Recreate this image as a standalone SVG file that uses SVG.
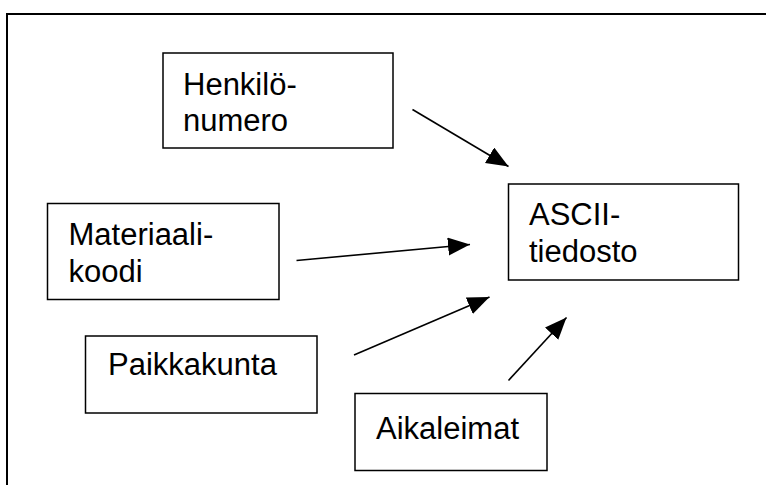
<svg xmlns="http://www.w3.org/2000/svg" width="766" height="485" viewBox="0 0 766 485">
<defs>
<style>
.box{fill:#fff;stroke:#000;stroke-width:1.5}
.t{font-family:"Liberation Sans",Arial,sans-serif;font-size:31px;fill:#000}
.c{stroke:#000;stroke-width:1.6;fill:none;marker-end:url(#ah)}
</style>
<marker id="ah" markerUnits="userSpaceOnUse" markerWidth="24" markerHeight="20" refX="22" refY="9" orient="auto">
<path d="M0,0 L22,9 L0,18 Z" fill="#000"/>
</marker>
</defs>
<rect width="766" height="485" fill="#fff"/>
<path d="M7,485 V14 H766" fill="none" stroke="#000" stroke-width="2"/>
<g id="henkilonumero">
<rect class="box" x="163" y="53" width="230" height="95"/>
<text class="t" x="183" y="94.5">Henkilö-</text>
<text class="t" x="183" y="130.5">numero</text>
</g>
<g id="materiaalikoodi">
<rect class="box" x="47.5" y="203.5" width="231.5" height="96"/>
<text class="t" x="68.5" y="245">Materiaali-</text>
<text class="t" x="68.5" y="281.5">koodi</text>
</g>
<g id="paikkakunta">
<rect class="box" x="85.5" y="336" width="231.5" height="77"/>
<text class="t" x="108" y="375">Paikkakunta</text>
</g>
<g id="aikaleimat">
<rect class="box" x="355" y="393.5" width="192" height="77"/>
<text class="t" x="376" y="438.5">Aikaleimat</text>
</g>
<g id="ascii">
<rect class="box" x="508.5" y="184" width="230" height="96"/>
<text class="t" x="529" y="225">ASCII-</text>
<text class="t" x="529" y="261.5">tiedosto</text>
</g>
<g id="connectors">
<line class="c" x1="412.5" y1="109.5" x2="508.5" y2="166.5"/>
<line class="c" x1="296.5" y1="260.5" x2="470" y2="244.5"/>
<line class="c" x1="354" y1="355" x2="489.5" y2="297"/>
<line class="c" x1="508.5" y1="380.5" x2="566.5" y2="317.5"/>
</g>
</svg>
